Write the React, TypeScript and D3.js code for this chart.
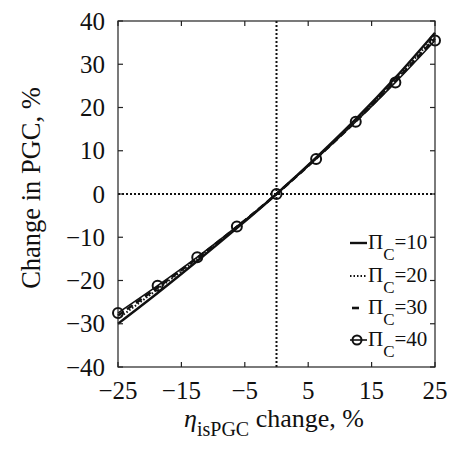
import React from "react";
import * as d3 from "d3";

const xValues = [-25, -18.75, -12.5, -6.25, 0, 6.25, 12.5, 18.75, 25];
const pi10 = [-30, -22.9, -15.5, -7.9, 0, 8.4, 17.3, 26.9, 37.3];
const pi20 = [-28.8, -22.0, -15.0, -7.7, 0, 8.3, 17.0, 26.4, 36.5];
const pi30 = [-28.1, -21.6, -14.8, -7.6, 0, 8.2, 16.8, 26.1, 36.0];
const pi40 = [-27.5, -21.2, -14.6, -7.5, 0, 8.1, 16.7, 25.8, 35.5];
const xTicks = [-25, -15, -5, 5, 15, 25];
const yTicks = [40, 30, 20, 10, 0, -10, -20, -30, -40];
const legendLabels = ["10", "20", "30", "40"];

const W = 464, H = 449;
const L = 118, R = 435, T = 21, B = 367;
const FONT = "'Liberation Serif', 'Times New Roman', serif";

export default function App() {
  const x = d3.scaleLinear().domain([-25, 25]).range([L, R]);
  const y = d3.scaleLinear().domain([-40, 40]).range([B, T]);
  const line = d3
    .line<number>()
    .x((_, i) => x(xValues[i]))
    .y((d) => y(d))
    .curve(d3.curveMonotoneX);
  const fmt = (v: number) => (v < 0 ? "\u2212" + Math.abs(v) : String(v));

  const series = [
    { data: pi10, dash: undefined as string | undefined, w: 2.4 },
    { data: pi20, dash: "1.5,2", w: 2 },
    { data: pi30, dash: "7,4", w: 2.6 },
    { data: pi40, dash: undefined as string | undefined, w: 1.6 },
  ];
  const legendY = [243, 276, 308, 340];

  return (
    <svg width={W} height={H} style={{ position: "absolute", left: 0, top: 0, background: "#fff" }} fontFamily={FONT}>
      <rect x={0} y={0} width={W} height={H} fill="#fff" />
      {/* reference dotted lines */}
      <line x1={x(0)} x2={x(0)} y1={T} y2={B} stroke="#111" strokeWidth={2} strokeDasharray="2,2" />
      <line x1={L} x2={R} y1={y(0)} y2={y(0)} stroke="#111" strokeWidth={2} strokeDasharray="2,2" />
      {/* series */}
      {series.map((s, i) => (
        <path key={i} d={line(s.data) || ""} fill="none" stroke="#111" strokeWidth={s.w} strokeDasharray={s.dash} />
      ))}
      {pi40.map((v, i) => (
        <circle key={i} cx={x(xValues[i])} cy={y(v)} r={5} fill="none" stroke="#111" strokeWidth={2} />
      ))}
      {/* axes box */}
      <rect x={L} y={T} width={R - L} height={B - T} fill="none" stroke="#222" strokeWidth={1.2} />
      {xTicks.map((t) => (
        <g key={t}>
          <line x1={x(t)} x2={x(t)} y1={B} y2={B - 5} stroke="#222" strokeWidth={1.2} />
          <line x1={x(t)} x2={x(t)} y1={T} y2={T + 5} stroke="#222" strokeWidth={1.2} />
          <text x={x(t)} y={399} textAnchor="middle" fontSize={25} fill="#111">{fmt(t)}</text>
        </g>
      ))}
      {yTicks.map((t) => (
        <g key={t}>
          <line x1={L} x2={L + 5} y1={y(t)} y2={y(t)} stroke="#222" strokeWidth={1.2} />
          <line x1={R} x2={R - 5} y1={y(t)} y2={y(t)} stroke="#222" strokeWidth={1.2} />
          <text x={105} y={y(t) + 8.5} textAnchor="end" fontSize={25} fill="#111">{fmt(t)}</text>
        </g>
      ))}
      {/* axis titles */}
      <text transform={`translate(40,${(T + B) / 2 - 6}) rotate(-90)`} textAnchor="middle" fontSize={26.5} fill="#111">
        Change in PGC, %
      </text>
      <text x={274} y={427} textAnchor="middle" fontSize={26} fill="#111">
        <tspan fontStyle="italic">η</tspan>
        <tspan fontSize={20} dy={9}>isPGC</tspan>
        <tspan dy={-9}> change, %</tspan>
      </text>
      {/* legend */}
      {legendLabels.map((lab, i) => {
        const ly = legendY[i];
        const s = series[i];
        return (
          <g key={lab}>
            {i === 2 ? (
              <line x1={352} x2={359} y1={ly} y2={ly} stroke="#111" strokeWidth={2.6} />
            ) : (
              <line x1={350} x2={367} y1={ly} y2={ly} stroke="#111" strokeWidth={s.w} strokeDasharray={s.dash} />
            )}
            {i === 3 && <circle cx={357} cy={ly} r={4.5} fill="none" stroke="#111" strokeWidth={2} />}
            <text x={368} y={ly + 6} fontSize={21} fill="#111">
              <tspan>Π</tspan>
              <tspan fontSize={17} dy={11}>C</tspan>
              <tspan dy={-11}>={lab}</tspan>
            </text>
          </g>
        );
      })}
    </svg>
  );
}
